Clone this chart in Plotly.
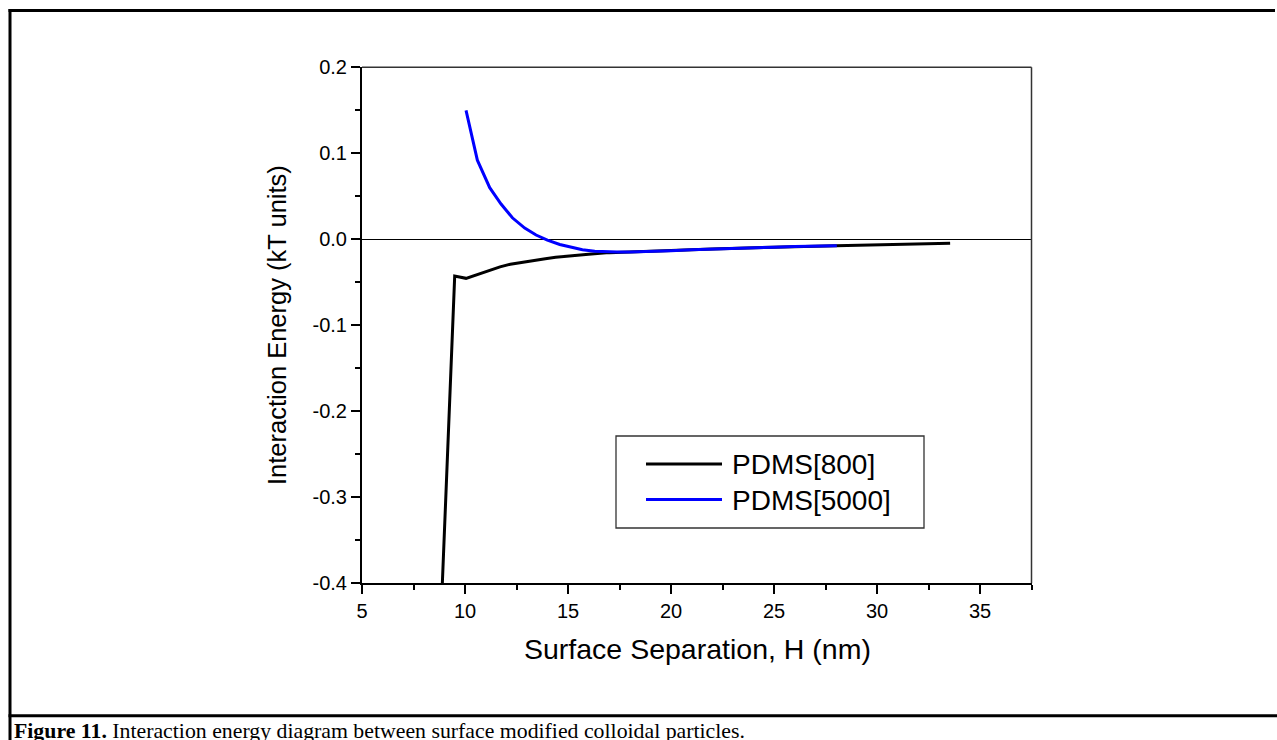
import plotly.graph_objects as go

# ---------------- data ----------------
series_names = ["PDMS[800]", "PDMS[5000]"]

h_800 = [8.9, 9.5, 10.05, 10.6, 11.1, 11.7, 12.2, 12.8, 13.3, 13.9, 14.4, 15.0,
         16.0, 17.0, 18.0, 19.0, 20.0, 21.0, 22.0, 23.0, 24.0, 25.0, 26.0, 27.0,
         28.0, 29.0, 30.0, 31.0, 32.0, 33.0, 33.55]
e_800 = [-0.400, -0.0427, -0.0454, -0.041, -0.0365, -0.032, -0.029, -0.0265,
         -0.0245, -0.0225, -0.021, -0.0195, -0.0175, -0.0155, -0.0148, -0.0142,
         -0.0133, -0.0121, -0.0112, -0.0104, -0.0097, -0.0091, -0.0085, -0.0080,
         -0.0074, -0.0069, -0.0064, -0.0060, -0.0055, -0.0050, -0.0047]

h_5000 = [10.05, 10.6, 11.2, 11.75, 12.3, 12.9, 13.45, 14.0, 14.6, 15.15, 15.7,
          16.3, 16.85, 17.4, 18.0, 19.0, 20.0, 21.0, 22.0, 23.0, 24.0, 25.0,
          26.0, 27.0, 28.05]
e_5000 = [0.150, 0.092, 0.060, 0.041, 0.025, 0.013, 0.005, -0.001, -0.006,
          -0.0095, -0.0122, -0.0138, -0.0146, -0.0149, -0.0148, -0.0142,
          -0.0133, -0.0121, -0.0112, -0.0104, -0.0097, -0.0091, -0.0085,
          -0.0080, -0.0074]

x_ticks = [5, 10, 15, 20, 25, 30, 35]
x_ticktext = ["5", "10", "15", "20", "25", "30", "35"]
y_ticks = [-0.4, -0.3, -0.2, -0.1, 0.0, 0.1, 0.2]
y_ticktext = ["-0.4", "-0.3", "-0.2", "-0.1", "0.0", "0.1", "0.2"]

x_title = "Surface Separation, H (nm)"
y_title = "Interaction Energy (kT units)"
caption_bold = "Figure 11."
caption_rest = " Interaction energy diagram between surface modified colloidal particles."

# ---------------- layout helpers ----------------
W, H = 1277, 740
def px(x):
    return x / W
def py(y):
    return 1 - y / H

colors = ["#000000", "#0000FF"]
FONT = "Arial, Liberation Sans, sans-serif"

fig = go.Figure()
fig.add_trace(go.Scatter(x=h_800, y=e_800, mode="lines", name=series_names[0],
                         line=dict(color=colors[0], width=3), showlegend=False))
fig.add_trace(go.Scatter(x=h_5000, y=e_5000, mode="lines", name=series_names[1],
                         line=dict(color=colors[1], width=3), showlegend=False))

plot_l, plot_r, plot_t, plot_b = 362, 1031.5, 67.3, 583.3

fig.update_layout(
    template="none",
    width=W, height=H, autosize=False,
    margin=dict(l=0, r=0, t=0, b=0, pad=0, autoexpand=False),
    paper_bgcolor="white", plot_bgcolor="white",
    font=dict(family=FONT, color="black"),
    showlegend=False,
    xaxis=dict(domain=[px(plot_l), px(plot_r)], range=[5, 37.5], automargin=False,
               tickvals=x_ticks, ticktext=x_ticktext,
               ticks="outside", ticklen=9, tickwidth=2, tickcolor="black",
               showline=True, linewidth=2, linecolor="black",
               showgrid=False, zeroline=False,
               tickfont=dict(size=20, family=FONT, color="black"),
               minor=dict(ticks="outside", ticklen=5, tickwidth=2, tickcolor="black",
                          tick0=5, dtick=2.5, showgrid=False)),
    yaxis=dict(domain=[py(plot_b), py(plot_t)], range=[-0.4, 0.2], automargin=False,
               tickvals=y_ticks, ticktext=y_ticktext,
               ticks="outside", ticklen=9, tickwidth=2, tickcolor="black",
               showline=True, linewidth=2, linecolor="black",
               showgrid=False, zeroline=True, zerolinecolor="black", zerolinewidth=1.3,
               tickfont=dict(size=20, family=FONT, color="black"),
               minor=dict(ticks="outside", ticklen=5, tickwidth=2, tickcolor="black",
                          tick0=-0.4, dtick=0.05, showgrid=False)),
)

shapes = []
# top and right frame lines of plot
shapes.append(dict(type="line", xref="paper", yref="paper", x0=px(plot_l), x1=px(plot_r),
                   y0=py(plot_t), y1=py(plot_t), line=dict(color="#333333", width=1.5)))
shapes.append(dict(type="line", xref="paper", yref="paper", x0=px(plot_r), x1=px(plot_r),
                   y0=py(plot_t), y1=py(plot_b), line=dict(color="#333333", width=1.5)))
# legend box
shapes.append(dict(type="rect", xref="paper", yref="paper", x0=px(616), x1=px(924),
                   y0=py(528), y1=py(436), line=dict(color="#333333", width=1.3)))
shapes.append(dict(type="line", xref="paper", yref="paper", x0=px(646), x1=px(722),
                   y0=py(464), y1=py(464), line=dict(color=colors[0], width=3)))
shapes.append(dict(type="line", xref="paper", yref="paper", x0=px(646), x1=px(722),
                   y0=py(499.5), y1=py(499.5), line=dict(color=colors[1], width=3)))
# outer page frame
shapes.append(dict(type="line", xref="paper", yref="paper", x0=px(8.5), x1=px(1275),
                   y0=py(10.5), y1=py(10.5), line=dict(color="black", width=3)))
shapes.append(dict(type="line", xref="paper", yref="paper", x0=px(10), x1=px(10),
                   y0=py(9), y1=py(740), line=dict(color="black", width=3)))
shapes.append(dict(type="line", xref="paper", yref="paper", x0=px(8.5), x1=px(1277),
                   y0=py(715.7), y1=py(715.7), line=dict(color="black", width=3)))
fig.update_layout(shapes=shapes)

ann = []
ann.append(dict(x=px(730), y=py(464), xref="paper", yref="paper", text=series_names[0],
                showarrow=False, xanchor="left", yanchor="middle",
                font=dict(size=28, family=FONT, color="black")))
ann.append(dict(x=px(730), y=py(500), xref="paper", yref="paper", text=series_names[1],
                showarrow=False, xanchor="left", yanchor="middle",
                font=dict(size=28, family=FONT, color="black")))
ann.append(dict(x=px(697), y=py(649), xref="paper", yref="paper", text=x_title,
                showarrow=False, xanchor="center", yanchor="middle",
                font=dict(size=28.5, family=FONT, color="black")))
ann.append(dict(x=px(277), y=py(325), xref="paper", yref="paper", text=y_title,
                showarrow=False, xanchor="center", yanchor="middle", textangle=-90,
                font=dict(size=25.5, family=FONT, color="black")))
ann.append(dict(x=px(12), y=py(717), xref="paper", yref="paper",
                text="<b>" + caption_bold + "</b>" + caption_rest,
                showarrow=False, xanchor="left", yanchor="top",
                font=dict(size=21.8, family="Times New Roman, Liberation Serif, serif", color="black")))
fig.update_layout(annotations=ann)

fig.write_html("out.html",
               post_script="document.body.style.margin='0';document.body.style.overflow='hidden';")
